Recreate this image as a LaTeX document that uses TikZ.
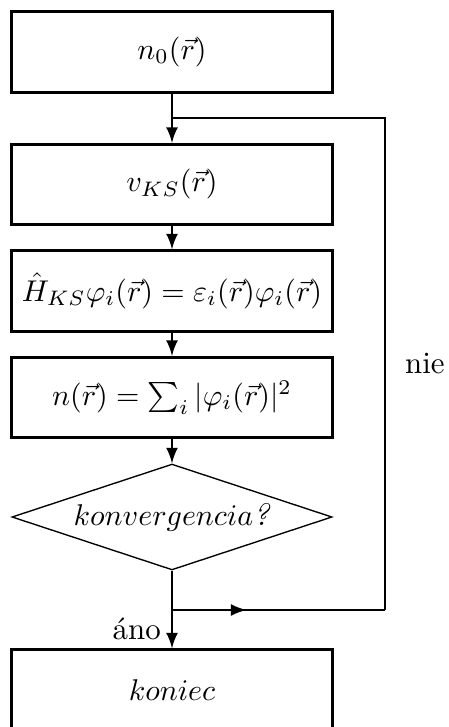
\documentclass[tikz,border=0pt]{standalone}
\usepackage{amsmath}
\usetikzlibrary{arrows}
\usetikzlibrary{decorations.markings, math}
\usetikzlibrary{shapes.geometric}

\tikzset{
krok/.style={draw, line width=1pt, minimum width=106.7pt, minimum height=26.7pt, inner sep=0pt},
otazka/.style={draw, diamond, aspect=3, line width=0.45pt, minimum width=106.7pt, minimum height=35.3pt, inner sep=0pt},
spoj/.style={-latex, line width=0.8pt},
}

\begin{document}
\begin{tikzpicture}[x=0.3333pt,y=-0.3333pt, font=\fontsize{10.3}{12.4}\selectfont]
\useasboundingbox (0,0) rectangle (449,727);

\node[krok] (n0) at (172,52) {$n_0(\vec r)$};
\node[krok] (vks) at (172,184.5) {$v_{KS}(\vec r)$};
\node[krok] (hks) at (172,291) {$\hat H_{KS}\varphi_i(\vec r) = \varepsilon_i(\vec r)\varphi_i(\vec r)$};
\node[krok] (hust) at (172,397.5) {$n(\vec r) = \sum_i |\varphi_i(\vec r)|^2$};
\node[otazka] (konv) at (172,517) {$konvergencia$\textit{?}};
\node[krok] (koniec) at (172,690) {$koniec$};

\coordinate (P) at (172,118);
\coordinate (Pr) at (385,118);
\coordinate (Q) at (172,610);
\coordinate (Qr) at (385,610);

\draw[spoj] (n0) -- (vks);
\draw[spoj] (vks) -- (hks);
\draw[spoj] (hks) -- (hust);
\draw[spoj] (hust) -- (konv);
\draw[spoj] (konv) -- (koniec) node[pos=0.75,left]{áno};

% spatna vazba
\draw[line width=0.8pt, decoration={markings, mark=at position 0.35 with {\arrow{latex}}}, postaction={decorate}] (Q) -- (Qr);
\draw[line width=0.8pt] (Qr) -- (Pr) node[midway,right,xshift=3pt]{nie} -- (P);

\end{tikzpicture}
\end{document}
